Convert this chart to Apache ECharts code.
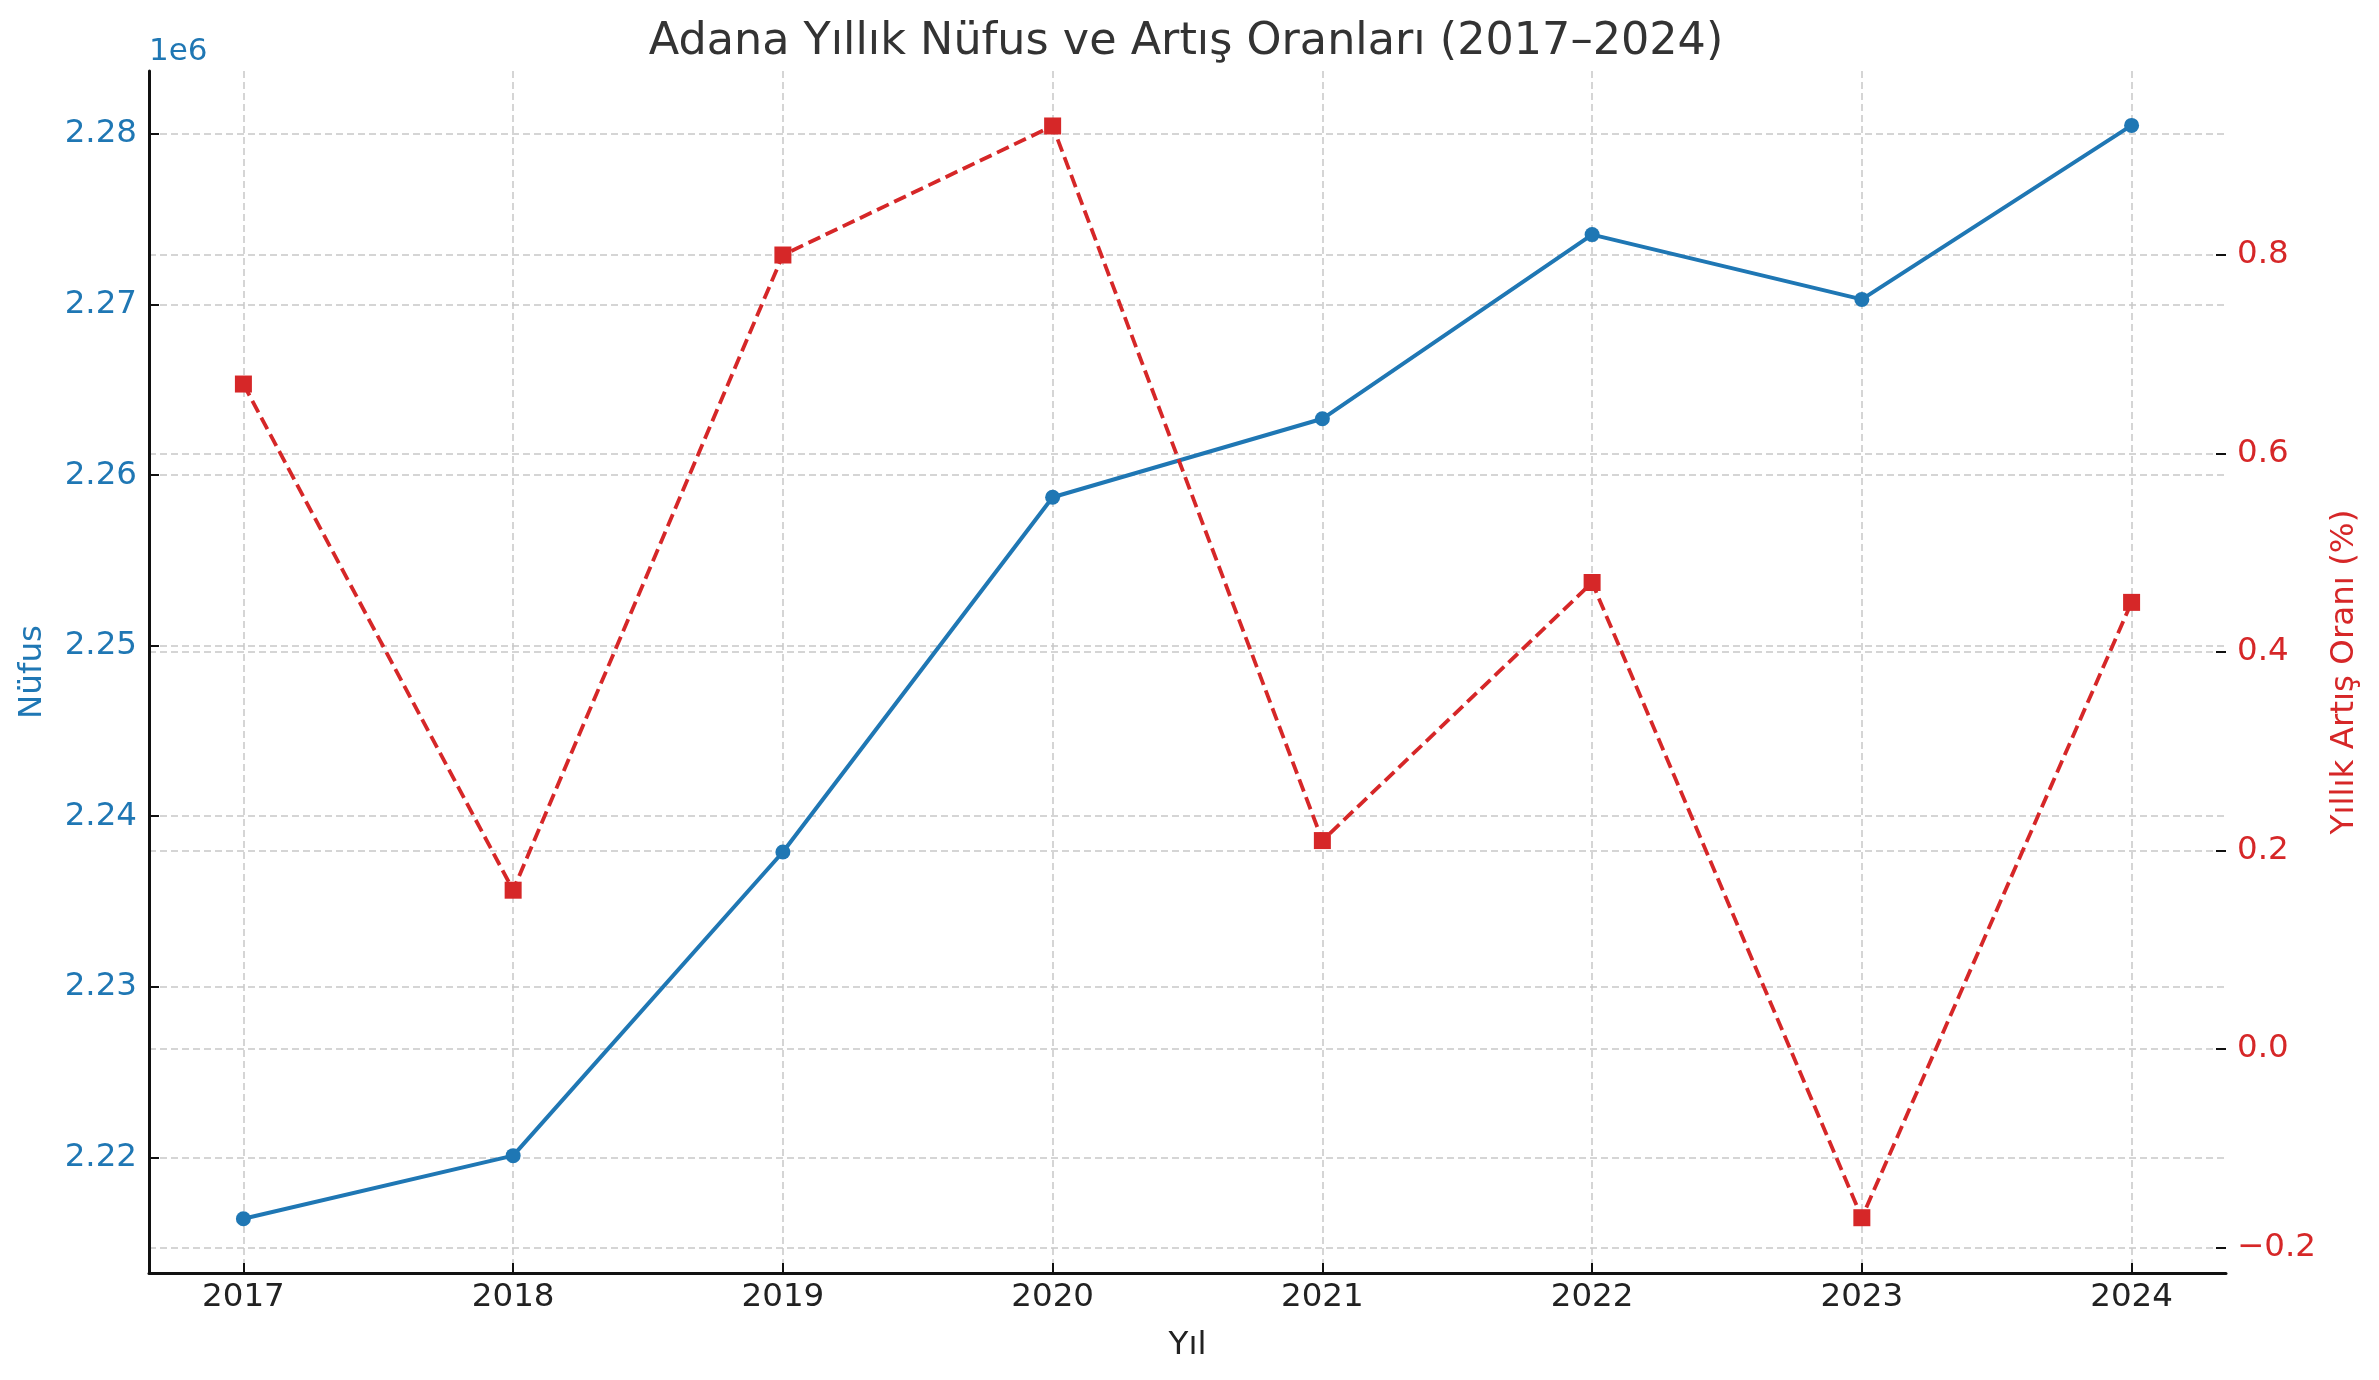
<!DOCTYPE html>
<html>
<head>
<meta charset="utf-8">
<script src="https://cdn.jsdelivr.net/npm/echarts@6/dist/echarts.min.js"></script>
<style>
html,body{margin:0;padding:0;background:#fff;}
#c{width:2379px;height:1380px;}
</style>
</head>
<body>
<div id="c"></div>
<script>
const years = [2017, 2018, 2019, 2020, 2021, 2022, 2023, 2024];
const population = [2216400, 2220100, 2237900, 2258700, 2263300, 2274100, 2270300, 2280500];
const growthRate = [0.67, 0.16, 0.80, 0.93, 0.21, 0.47, -0.17, 0.45];
const popTicks = [2220000, 2230000, 2240000, 2250000, 2260000, 2270000, 2280000];
const rateTicks = [-0.2, 0.0, 0.2, 0.4, 0.6, 0.8];

const BLUE = '#1f77b4', RED = '#d62728', FONT = 'DejaVu Sans';
const chart = echarts.init(document.getElementById('c'));
const grid = {left: 149, right: 153, top: 71, bottom: 107};
const gridLine = {show: true, lineStyle: {color: '#c8c8c8', width: 1.5, type: [7, 4]}};
const tick = {show: true, inside: true, length: 10, lineStyle: {color: '#111', width: 2}};
const FS = 32.5;

chart.setOption({
  backgroundColor: '#fff',
  animation: false,
  title: {
    text: 'Adana Yıllık Nüfus ve Artış Oranları (2017–2024)',
    left: 1181, top: 15, textAlign: 'center',
    textStyle: {fontFamily: FONT, fontSize: 44.5, fontWeight: 'normal', color: '#333333'}
  },
  graphic: [{
    type: 'text', left: 149, top: 36,
    style: {text: '1e6', fontFamily: FONT, fontSize: 31, fill: BLUE}
  }],
  grid: grid,
  xAxis: {
    type: 'value', min: 2016.65, max: 2024.35,
    name: 'Yıl', nameLocation: 'middle', nameGap: 56,
    nameTextStyle: {fontFamily: FONT, fontSize: FS, color: '#222'},
    axisLine: {show: true, onZero: false, lineStyle: {color: '#111', width: 3}},
    axisTick: Object.assign({customValues: years}, tick),
    axisLabel: {customValues: years, fontFamily: FONT, fontSize: FS, color: '#222', margin: 8,
      formatter: v => String(v)},
    splitLine: gridLine
  },
  yAxis: [{
    type: 'value', min: 2213220, max: 2283690, position: 'left',
    name: 'Nüfus', nameLocation: 'middle', nameGap: 100, nameRotate: 90,
    nameTextStyle: {fontFamily: FONT, fontSize: FS, color: BLUE},
    axisLine: {show: true, onZero: false, lineStyle: {color: '#111', width: 3}},
    axisTick: Object.assign({customValues: popTicks}, tick),
    axisLabel: {customValues: popTicks, fontFamily: FONT, fontSize: FS, color: BLUE, margin: 12,
      formatter: v => (v / 1e6).toFixed(2)},
    splitLine: gridLine
  }, {
    type: 'value', min: -0.2257, max: 0.9854, position: 'right',
    name: 'Yıllık Artış Oranı (%)', nameLocation: 'middle', nameGap: 102, nameRotate: 90,
    nameTextStyle: {fontFamily: FONT, fontSize: FS, color: RED},
    axisLine: {show: false},
    axisTick: Object.assign({customValues: rateTicks}, tick),
    axisLabel: {customValues: rateTicks, fontFamily: FONT, fontSize: FS, color: RED, margin: 11,
      formatter: v => (v < 0 ? '\u2212' + Math.abs(v).toFixed(1) : v.toFixed(1))},
    splitLine: gridLine
  }],
  series: [{
    type: 'line', yAxisIndex: 0,
    data: years.map((y, i) => [y, population[i]]),
    symbol: 'circle', symbolSize: 15,
    lineStyle: {color: BLUE, width: 4},
    itemStyle: {color: BLUE}
  }, {
    type: 'line', yAxisIndex: 1,
    data: years.map((y, i) => [y, growthRate[i]]),
    symbol: 'rect', symbolSize: 17,
    lineStyle: {color: RED, width: 3.8, type: [13, 6]},
    itemStyle: {color: RED}
  }]
});
</script>
</body>
</html>
